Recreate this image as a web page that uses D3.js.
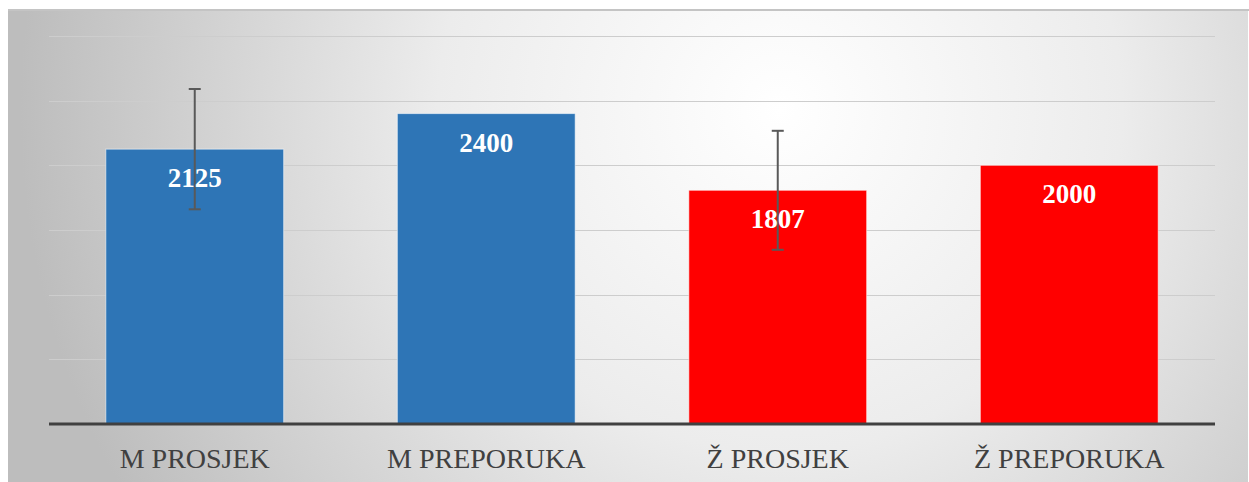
<!DOCTYPE html>
<html>
<head>
<meta charset="utf-8">
<script src="https://cdn.jsdelivr.net/npm/d3@7"></script>
<style>
  html, body { margin: 0; padding: 0; background: #fff; }
  svg { display: block; }
</style>
</head>
<body>
<div id="chart"></div>
<script>
const categories = ["M PROSJEK", "M PREPORUKA", "Ž PROSJEK", "Ž PREPORUKA"];
const values = [2125, 2400, 1807, 2000];
const errors = [465, null, 460, null];
const colors = ["#2E75B6", "#2E75B6", "#FF0000", "#FF0000"];
const gridTicks = [500, 1000, 1500, 2000, 2500, 3000];

const W = 1249, H = 482;
const margin = { top: 36, left: 49, right: 34, bottom: 58 };
const width = W - margin.left - margin.right;
const height = H - margin.top - margin.bottom;

const svg = d3.select("#chart").append("svg")
  .attr("width", W).attr("height", H);

// background gradient
const defs = svg.append("defs");
const grad = defs.append("radialGradient")
  .attr("id", "bg")
  .attr("gradientUnits", "userSpaceOnUse")
  .attr("cx", 780).attr("cy", 110).attr("r", 760);
grad.append("stop").attr("offset", "0").attr("stop-color", "#ffffff");
grad.append("stop").attr("offset", "0.45").attr("stop-color", "#ececec");
grad.append("stop").attr("offset", "1").attr("stop-color", "#bdbdbd");

svg.append("rect")
  .attr("x", 8).attr("y", 9).attr("width", W - 9).attr("height", H - 9)
  .attr("fill", "url(#bg)");
svg.append("line")
  .attr("x1", 8).attr("x2", W).attr("y1", 10).attr("y2", 10)
  .attr("stroke", "#c4c4c4").attr("stroke-width", 2);

const g = svg.append("g")
  .attr("transform", `translate(${margin.left}, ${margin.top})`);

const y = d3.scaleLinear().domain([0, 3000]).range([height, 0]);
const x = d3.scaleBand().domain(categories).range([0, width])
  .paddingInner(0.39).paddingOuter(0.195);

// gridlines
g.append("g").selectAll("line").data(gridTicks).join("line")
  .attr("x1", 0).attr("x2", width)
  .attr("y1", d => Math.round(y(d)) + 0.5).attr("y2", d => Math.round(y(d)) + 0.5)
  .attr("stroke", "#cdcdcd").attr("stroke-width", 1);

// bars
g.append("g").selectAll("rect").data(values).join("rect")
  .attr("x", (d, i) => x(categories[i]))
  .attr("y", d => y(d))
  .attr("width", x.bandwidth())
  .attr("height", d => height - y(d))
  .attr("fill", (d, i) => colors[i])
  .attr("stroke", "rgba(255,255,255,0.55)")
  .attr("stroke-width", 1);

// baseline
g.append("line")
  .attr("x1", 0).attr("x2", width)
  .attr("y1", height).attr("y2", height)
  .attr("stroke", "#404040").attr("stroke-width", 3);

// error bars
const eb = g.append("g").selectAll("g")
  .data(values.map((v, i) => ({ v, e: errors[i], c: categories[i] })).filter(d => d.e))
  .join("g")
  .attr("stroke", "#595959").attr("stroke-width", 2);
eb.append("line")
  .attr("x1", d => x(d.c) + x.bandwidth() / 2).attr("x2", d => x(d.c) + x.bandwidth() / 2)
  .attr("y1", d => y(d.v + d.e)).attr("y2", d => y(d.v - d.e));
eb.append("line")
  .attr("x1", d => x(d.c) + x.bandwidth() / 2 - 6).attr("x2", d => x(d.c) + x.bandwidth() / 2 + 6)
  .attr("y1", d => y(d.v + d.e)).attr("y2", d => y(d.v + d.e));
eb.append("line")
  .attr("x1", d => x(d.c) + x.bandwidth() / 2 - 6).attr("x2", d => x(d.c) + x.bandwidth() / 2 + 6)
  .attr("y1", d => y(d.v - d.e)).attr("y2", d => y(d.v - d.e));

// value labels
g.append("g").selectAll("text").data(values).join("text")
  .attr("x", (d, i) => x(categories[i]) + x.bandwidth() / 2)
  .attr("y", d => y(d) + 38)
  .attr("text-anchor", "middle")
  .attr("font-family", "'Liberation Serif', 'Times New Roman', serif")
  .attr("font-weight", "bold")
  .attr("font-size", 27)
  .attr("fill", "#ffffff")
  .text(d => d);

// category labels
g.append("g").selectAll("text").data(categories).join("text")
  .attr("x", d => x(d) + x.bandwidth() / 2)
  .attr("y", height + 44)
  .attr("text-anchor", "middle")
  .attr("font-family", "'Liberation Serif', 'Times New Roman', serif")
  .attr("font-size", 28)
  .attr("fill", "#404040")
  .text(d => d);
</script>
</body>
</html>
